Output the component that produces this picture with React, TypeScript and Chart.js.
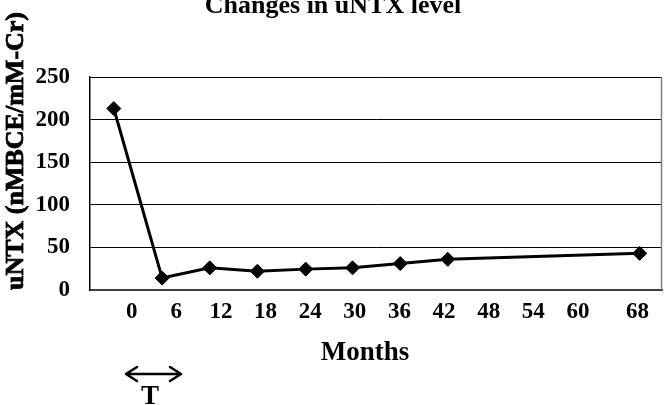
import React, { useEffect, useRef } from "react";
import { Chart, registerables } from "chart.js";

Chart.register(...registerables);

// Data
const monthPositions = [-2.4, 4.1, 10.5, 16.9, 23.4, 29.7, 36.1, 42.5, 68.3];
const untxValues = [213, 14, 26, 22, 24.5, 26, 31, 36, 43];
const xTickValues = [0, 6, 12, 18, 24, 30, 36, 42, 48, 54, 60, 68];
const yTickValues = [0, 50, 100, 150, 200, 250];

const chartTitle = "Changes in uNTX level";
const yAxisTitle = "uNTX (nMBCE/mM-Cr)";
const xAxisTitle = "Months";
const treatmentLabel = "T";

const FONT = "'Liberation Serif', 'Times New Roman', serif";

const decorPlugin = {
  id: "decor",
  afterDraw(chart: any) {
    const ctx = chart.ctx;
    const area = chart.chartArea;
    ctx.save();
    // right border
    ctx.strokeStyle = "#7f7f7f";
    ctx.lineWidth = 1.5;
    ctx.beginPath();
    ctx.moveTo(area.right - 0.5, area.top);
    ctx.lineTo(area.right - 0.5, area.bottom);
    ctx.stroke();

    ctx.fillStyle = "#000";
    // title
    ctx.font = `bold 26px ${FONT}`;
    ctx.textAlign = "center";
    ctx.textBaseline = "alphabetic";
    ctx.fillText(chartTitle, 333, 13);

    // y axis title (rotated)
    ctx.save();
    ctx.translate(23, 151);
    ctx.rotate(-Math.PI / 2);
    ctx.font = `bold 26px ${FONT}`;
    ctx.textAlign = "center";
    ctx.textBaseline = "alphabetic";
    ctx.lineWidth = 0.8;
    ctx.strokeStyle = "#000";
    ctx.fillText(yAxisTitle, 0, 0);
    ctx.strokeText(yAxisTitle, 0, 0);
    ctx.restore();

    // x axis title
    ctx.font = `bold 27px ${FONT}`;
    ctx.textAlign = "center";
    ctx.fillText(xAxisTitle, 365, 360);

    // treatment arrow
    const y = 374;
    const x1 = 126;
    const x2 = 181;
    ctx.strokeStyle = "#000";
    ctx.lineWidth = 2.5;
    ctx.lineCap = "round";
    ctx.lineJoin = "round";
    ctx.beginPath();
    ctx.moveTo(x1, y);
    ctx.lineTo(x2, y);
    ctx.moveTo(x1 + 11, y - 7);
    ctx.lineTo(x1, y);
    ctx.lineTo(x1 + 11, y + 7);
    ctx.moveTo(x2 - 11, y - 7);
    ctx.lineTo(x2, y);
    ctx.lineTo(x2 - 11, y + 7);
    ctx.stroke();

    ctx.font = `bold 27px ${FONT}`;
    ctx.fillText(treatmentLabel, 150, 404);
    ctx.restore();
  },
};

export default function App() {
  const canvasRef = useRef<HTMLCanvasElement | null>(null);

  useEffect(() => {
    const canvas = canvasRef.current;
    if (!canvas) return;
    const chart = new Chart(canvas, {
      type: "line",
      data: {
        datasets: [
          {
            data: monthPositions.map((m, i) => ({ x: m, y: untxValues[i] })),
            borderColor: "#000",
            backgroundColor: "#000",
            borderWidth: 3,
            pointStyle: "rectRot",
            pointRadius: 7,
            pointBackgroundColor: "#000",
            pointBorderColor: "#000",
            pointBorderWidth: 1,
            tension: 0,
            fill: false,
            clip: false as any,
          },
        ],
      },
      options: {
        responsive: false,
        animation: false,
        devicePixelRatio: 1,
        layout: { padding: { top: 77, right: 1, left: 0, bottom: 0 } },
        plugins: {
          legend: { display: false },
          title: { display: false },
          tooltip: { enabled: false },
        },
        scales: {
          x: {
            type: "linear",
            min: -5.6,
            max: 71.3,
            afterBuildTicks: (scale: any) => {
              scale.ticks = xTickValues.map((v) => ({ value: v }));
            },
            afterFit: (scale: any) => {
              scale.height = 115;
            },
            grid: { display: false, drawTicks: false },
            border: { display: true, color: "#404040", width: 2 },
            ticks: {
              autoSkip: false,
              maxRotation: 0,
              padding: 8,
              color: "#000",
              font: { family: FONT, size: 23, weight: "bold" },
              callback: (v: any) => String(v),
            },
          },
          y: {
            min: 0,
            max: 250,
            afterBuildTicks: (scale: any) => {
              scale.ticks = yTickValues.map((v) => ({ value: v }));
            },
            afterFit: (scale: any) => {
              scale.width = 90;
            },
            grid: { color: "#000", lineWidth: 1, drawTicks: false },
            border: { display: true, color: "#000", width: 1.5 },
            ticks: {
              padding: 20,
              color: "#000",
              font: { family: FONT, size: 23, weight: "bold" },
              callback: (v: any) => String(v),
            },
          },
        },
      },
      plugins: [decorPlugin],
    });
    return () => chart.destroy();
  }, []);

  return (
    <div style={{ position: "absolute", left: 0, top: 0, width: 670, height: 405, background: "#fff" }}>
      <canvas ref={canvasRef} width={670} height={405} style={{ display: "block" }} />
    </div>
  );
}
